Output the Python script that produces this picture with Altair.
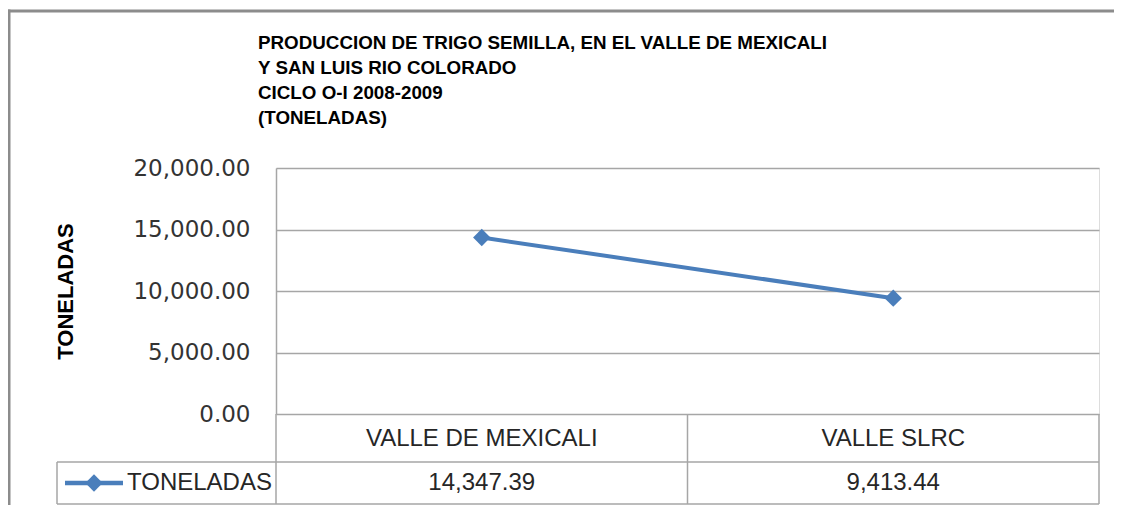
import altair as alt
import pandas as pd

# ---- data ----
categories = ["VALLE DE MEXICALI", "VALLE SLRC"]
toneladas = [14347.39, 9413.44]
series_name = "TONELADAS"
y_ticks = [0, 5000, 10000, 15000, 20000]
y_title = "TONELADAS"
title_lines = [
    "PRODUCCION DE TRIGO SEMILLA, EN EL VALLE DE MEXICALI",
    "Y SAN LUIS RIO COLORADO",
    "CICLO O-I 2008-2009",
    "(TONELADAS)",
]

df = pd.DataFrame({"region": categories, "toneladas": toneladas})
legend_df = pd.DataFrame({"serie": [series_name]})
one = pd.DataFrame({"k": [0]})

# ---- layout / style ----
W, H = 823, 246
ROW1 = H + 48   # bottom of category row
ROW2 = H + 90   # bottom of values row
LEG_LEFT = -219
BLUE = "#4a7ebb"
GRID = "#a6a6a6"
FRAME = "#8c8c8c"
TXT = "#262626"
TFONT = "Liberation Sans"
PAD = {"left": 268, "top": 160, "right": 15, "bottom": 91}

xscale = alt.Scale(type="band", paddingInner=0, paddingOuter=0, domain=categories)
yscale = alt.Scale(domain=[0, 20000], nice=False)

x_axis = alt.Axis(
    title=None, domain=False, ticks=False, tickSize=0, grid=False,
    labelPadding=24, labelBaseline="middle", labelAngle=0, labelLimit=0,
    labelFont=TFONT, labelFontSize=24, labelColor=TXT, labelFontWeight="normal",
)
y_axis = alt.Axis(
    values=y_ticks, format=",.2f", title=y_title,
    ticks=False, tickSize=0, labelPadding=26,
    labelFont="DejaVu Sans", labelFontSize=23, labelColor="#333333",
    domain=True, domainColor=GRID, domainWidth=1.5,
    grid=True, gridColor=GRID, gridWidth=1.5,
    titleFont=TFONT, titleFontWeight="bold", titleFontSize=22, titleColor="#000000",
    titleAngle=270, titleX=-211, titleY=H / 2, titleAlign="center", titleBaseline="middle",
)

X = alt.X("region:N", scale=xscale, sort=categories, axis=x_axis)
Y = alt.Y("toneladas:Q", scale=yscale, axis=y_axis)

base = alt.Chart(df)

line = base.mark_line(color=BLUE, strokeWidth=4).encode(x=X, y=Y)
pts = base.mark_point(shape="diamond", filled=True, size=300, color=BLUE, opacity=1).encode(x=X, y=Y)

values_row = base.mark_text(font=TFONT, fontSize=24, color=TXT, baseline="middle").encode(
    x=X, y=alt.value((ROW1 + ROW2) / 2), text=alt.Text("toneladas:Q", format=",.2f")
)

# data-table borders
vlines = base.mark_rule(color=GRID, strokeWidth=1.5).encode(
    x=alt.X("region:N", scale=xscale, sort=categories, bandPosition=0, axis=x_axis),
    y=alt.value(H), y2=alt.value(ROW2),
)
deco = alt.Chart(one)
right_edge = deco.mark_rule(color=GRID, strokeWidth=1.5).encode(
    x=alt.value(W), y=alt.value(H), y2=alt.value(ROW2))
h1 = deco.mark_rule(color=GRID, strokeWidth=1.5).encode(
    x=alt.value(LEG_LEFT), x2=alt.value(W), y=alt.value(ROW1))
h2 = deco.mark_rule(color=GRID, strokeWidth=1.5).encode(
    x=alt.value(LEG_LEFT), x2=alt.value(W), y=alt.value(ROW2))
leg_left = deco.mark_rule(color=GRID, strokeWidth=1.5).encode(
    x=alt.value(LEG_LEFT), y=alt.value(ROW1), y2=alt.value(ROW2))

# legend key inside the table
leg = alt.Chart(legend_df)
leg_y = (ROW1 + ROW2) / 2
leg_line = leg.mark_rule(color=BLUE, strokeWidth=4.5).encode(
    x=alt.value(-211), x2=alt.value(-153), y=alt.value(leg_y))
leg_pt = leg.mark_point(shape="diamond", filled=True, size=300, color=BLUE, opacity=1).encode(
    x=alt.value(-182), y=alt.value(leg_y))
leg_txt = leg.mark_text(font=TFONT, fontSize=24, color=TXT, align="left", baseline="middle").encode(
    x=alt.value(-149), y=alt.value(leg_y), text="serie:N")

# chart title (multi-line text block)
title = deco.mark_text(
    text=title_lines, font=TFONT, fontSize=18.8, fontWeight="bold", color="#000000",
    align="left", baseline="alphabetic", lineHeight=25,
).encode(x=alt.value(-18), y=alt.value(-119))

# outer frame (left and top edges)
frame_left = deco.mark_rule(color=FRAME, strokeWidth=3).encode(
    x=alt.value(-267), y=alt.value(-158.5), y2=alt.value(H + 120))
frame_top = deco.mark_rule(color=FRAME, strokeWidth=3).encode(
    x=alt.value(-268.5), x2=alt.value(W + 40), y=alt.value(-157))

chart = alt.layer(
    vlines, right_edge, h1, h2, leg_left,
    line, pts, values_row,
    leg_line, leg_pt, leg_txt,
    title, frame_left, frame_top,
).properties(
    width=W, height=H,
    autosize=alt.AutoSizeParams(type="none"),
    padding=PAD,
).configure_view(stroke=None).configure(background="white")

chart.save("out.html", embed_options={"renderer": "svg", "actions": False})
